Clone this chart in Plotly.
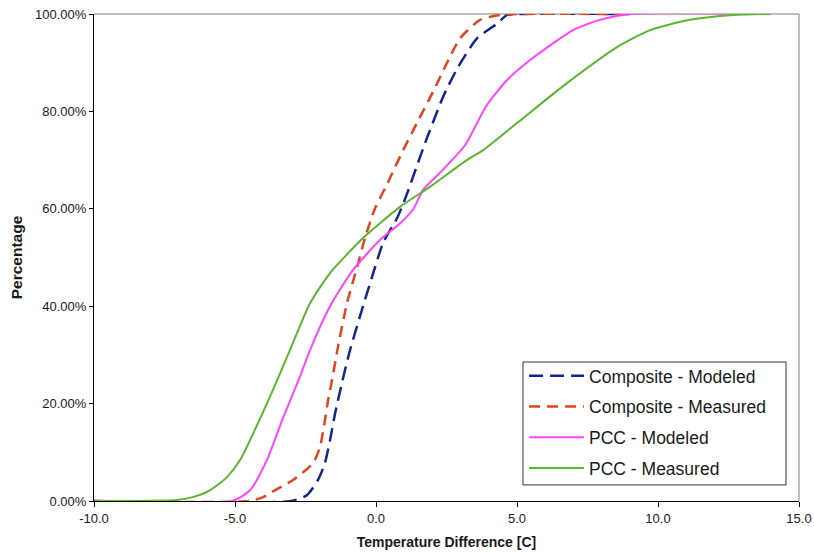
import plotly.graph_objects as go

# Composite - Modeled
comp_mod_x = [-10, -3.0, -2.45, -2.06, -1.81, -1.63, -1.45, -1.21, -0.92, -0.46, -0.14, 0.25, 0.74, 1.03, 1.56, 1.74, 2.38, 2.9, 3.58, 4.29, 4.65, 5.0, 9.0]
comp_mod_y = [0, 0, 1.2, 4.3, 7.8, 12.5, 18, 24.2, 31, 40, 46, 53, 58, 62, 70.6, 73.5, 83, 89, 95, 98, 99.8, 100, 100]

# Composite - Measured
comp_meas_x = [-10, -4.5, -4.0, -3.5, -2.94, -2.23, -1.99, -1.81, -1.7, -1.56, -1.35, -1.03, -0.67, -0.39, -0.04, 0.39, 0.9, 1.45, 2.02, 2.52, 2.98, 3.69, 4.4, 5.0, 9.0]
comp_meas_y = [0, 0, 0.8, 2.5, 4.3, 7.8, 11, 16.6, 20.7, 24.8, 31.6, 40.6, 48, 54, 60, 65, 71.3, 77.6, 84, 90, 95, 98.8, 99.8, 100, 100]

# PCC - Modeled
pcc_mod_x = [-10, -5.1, -4.47, -3.87, -3.3, -2.7, -2.34, -1.63, -0.82, 0.14, 0.85, 1.31, 1.67, 2.25, 3.15, 3.9, 4.64, 5.57, 6.99, 7.94, 9.0, 14]
pcc_mod_y = [0, 0, 2.2, 8.4, 17, 25.5, 31, 40, 47.4, 53.6, 57, 59.8, 63.9, 67.3, 73, 81, 86.4, 91, 96.7, 98.8, 100, 100]

# PCC - Measured
pcc_meas_x = [-10, -7.06, -6.5, -5.89, -5.3, -4.82, -3.87, -3.05, -2.34, -1.63, -0.46, 0.85, 1.91, 3.22, 3.79, 5.0, 6.77, 8.55, 9.72, 11.13, 12.66, 14]
pcc_meas_y = [0, 0.2, 0.8, 2.2, 4.8, 8.4, 20, 31, 40.6, 46.8, 54, 60.4, 64.5, 70, 72, 77.6, 85.8, 93.2, 96.7, 98.8, 99.8, 100]

x_tickvals = [-10, -5, 0, 5, 10, 15]
x_ticktext = ["-10.0", "-5.0", "0.0", "5.0", "10.0", "15.0"]
y_tickvals = [0, 20, 40, 60, 80, 100]
y_ticktext = ["0.00%", "20.00%", "40.00%", "60.00%", "80.00%", "100.00%"]

FONT = "Liberation Sans, Arial, sans-serif"

fig = go.Figure()
fig.add_trace(go.Scatter(x=comp_mod_x, y=comp_mod_y, mode="lines", name="Composite - Modeled",
                         legendgroup="a", line=dict(color="#16248f", width=2.5, dash="14px,7px", shape="spline", smoothing=0.6)))
fig.add_trace(go.Scatter(x=comp_meas_x, y=comp_meas_y, mode="lines", name="Composite - Measured",
                         legendgroup="b", line=dict(color="#e2441e", width=2.5, dash="11px,7px", shape="spline", smoothing=0.6)))
fig.add_trace(go.Scatter(x=pcc_mod_x, y=pcc_mod_y, mode="lines", name="PCC - Modeled",
                         legendgroup="c", line=dict(color="#ff45ff", width=2, shape="spline", smoothing=0.6)))
fig.add_trace(go.Scatter(x=pcc_meas_x, y=pcc_meas_y, mode="lines", name="PCC - Measured",
                         legendgroup="d", line=dict(color="#5cb531", width=2, shape="spline", smoothing=0.6)))

fig.update_layout(
    width=814, height=552,
    margin=dict(l=94, r=15, t=14, b=51),
    paper_bgcolor="white", plot_bgcolor="white",
    font=dict(family=FONT, color="#1a1a1a"),
    showlegend=True,
    legend=dict(
        x=0.610, y=0.294, xanchor="left", yanchor="top",
        borderwidth=0, bgcolor="rgba(0,0,0,0)",
        font=dict(size=17.5, family=FONT, color="#1a1a1a"),
        traceorder="grouped", tracegroupgap=5,
        itemwidth=55,
    ),
    xaxis=dict(
        range=[-10, 15], tickvals=x_tickvals, ticktext=x_ticktext, automargin=False,
        showgrid=False, zeroline=False, showline=True, linecolor="black", linewidth=1,
        ticks="outside", ticklen=5, tickcolor="black",
        tickfont=dict(size=13, family=FONT, color="#1a1a1a"),
        title=dict(text="<b>Temperature Difference [C]</b>", font=dict(size=14, family=FONT, color="#1a1a1a"), standoff=12),
        layer="below traces",
    ),
    yaxis=dict(
        range=[0, 100], tickvals=y_tickvals, ticktext=y_ticktext, automargin=False,
        showgrid=False, zeroline=False, showline=True, linecolor="black", linewidth=1,
        ticks="outside", ticklen=4, tickcolor="black",
        tickfont=dict(size=13, family=FONT, color="#1a1a1a"),
        title=dict(text="<b>Percentage</b>", font=dict(size=15.5, family=FONT, color="#1a1a1a"), standoff=8),
        layer="below traces",
    ),
    shapes=[
        dict(type="line", xref="paper", yref="paper", x0=0, x1=1, y0=1, y1=1, line=dict(color="#aaaaaa", width=1.5), layer="below"),
        dict(type="line", xref="paper", yref="paper", x0=1, x1=1, y0=0, y1=1, line=dict(color="#aaaaaa", width=1.5), layer="below"),
        dict(type="rect", xref="paper", yref="paper", x0=0.6085, x1=0.9816, y0=0.033, y1=0.2854,
             line=dict(color="#333333", width=1), fillcolor="white", layer="below"),
    ],
)

fig.write_html("out.html")
